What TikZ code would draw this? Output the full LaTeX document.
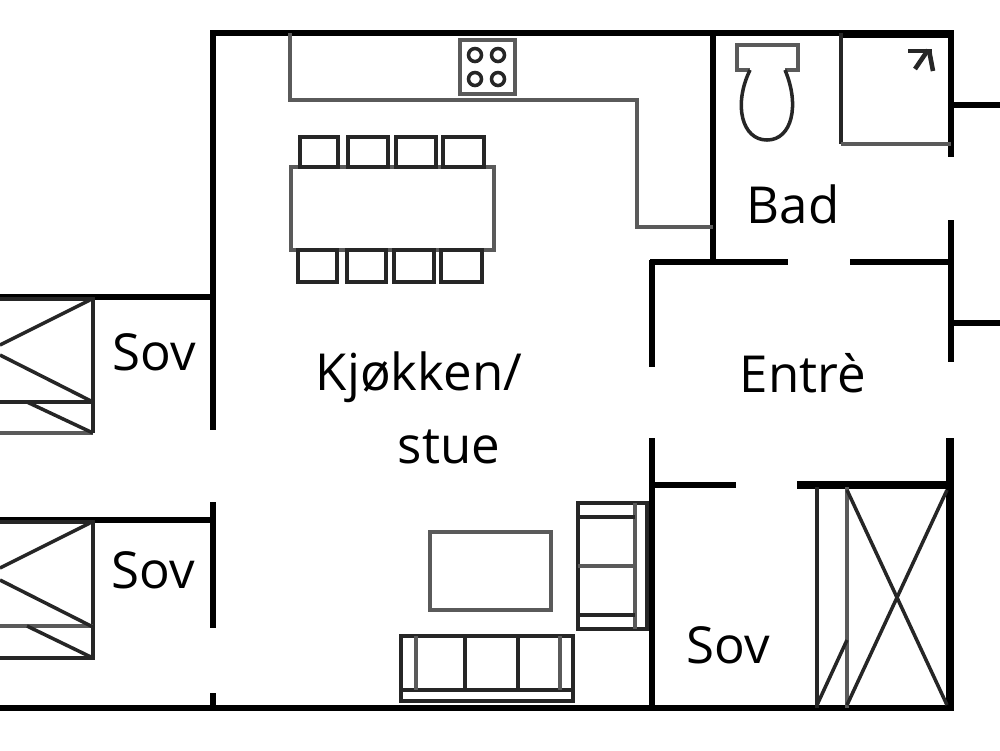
\documentclass[tikz,border=0pt]{standalone}
\usepackage{fontspec}
\setmainfont{Open Sans}
\definecolor{greyline}{HTML}{5A5A5A}
\tikzset{
  wall/.style={black, line width=1.6pt},
  thickwall/.style={black, line width=2.1pt},
  item/.style={black!85, line width=1pt},
  greyitem/.style={greyline, line width=1.3pt},
  roomlabel/.style={font=\fontsize{14.5}{16}\selectfont, text=black, inner sep=0pt}
}
\begin{document}
\begin{tikzpicture}[x=0.01cm,y=-0.01cm]
\useasboundingbox (0,0) rectangle (1000,750);

\draw[wall] (210,33) -- (954,33);
\draw[thickwall] (841,34) -- (954,34);
\draw[wall] (0,708) -- (954,708);
\draw[wall] (213,30) -- (213,430);
\draw[wall] (213,502) -- (213,628);
\draw[wall] (213,693) -- (213,708);
\draw[wall] (0,297) -- (213,297);
\draw[wall] (0,520) -- (213,520);

\draw[wall] (713,33) -- (713,262);
\draw[wall] (650,262) -- (788,262);
\draw[wall] (850,262) -- (951,262);
\draw[wall] (652,260) -- (652,367);
\draw[wall] (652,438) -- (652,708);
\draw[wall] (652,485) -- (736,485);
\draw[thickwall] (797,485) -- (951,485);

\draw[wall] (951,30) -- (951,157);
\draw[wall] (951,220) -- (951,362);
\draw[thickwall] (950,438) -- (950,710);
\draw[wall] (951,105) -- (1000,105);
\draw[wall] (951,323) -- (1000,323);

\draw[greyitem] (290,33) -- (290,100) -- (637,100) -- (637,227) -- (713,227);
\draw[greyitem, fill=white] (460,40) rectangle (515,94);
\draw[item] (475,55) circle (6.5);
\draw[item] (498,55) circle (6.5);
\draw[item] (475,79) circle (6.5);
\draw[item] (498,79) circle (6.5);

\draw[greyitem] (291,167) rectangle (494,250);
\draw[item] (300,167) rectangle (338,137);
\draw[item] (348,167) rectangle (388,137);
\draw[item] (396,167) rectangle (436,137);
\draw[item] (443,167) rectangle (484,137);
\draw[item] (298,250) rectangle (337,282);
\draw[item] (347,250) rectangle (386,282);
\draw[item] (394,250) rectangle (434,282);
\draw[item] (441,250) rectangle (482,282);

\draw[greyitem] (430,532) rectangle (551,610);

\draw[item] (578,503) rectangle (647,629);
\draw[greyitem] (635,503) -- (635,629);
\draw[item] (578,517) -- (635,517);
\draw[greyitem] (578,566) -- (635,566);
\draw[item] (578,615) -- (635,615);

\draw[item] (401,636) rectangle (573,701);
\draw[item] (401,690) -- (573,690);
\draw[greyitem] (416,636) -- (416,690);
\draw[item] (465,636) -- (465,690);
\draw[item] (518,636) -- (518,690);
\draw[greyitem] (560,636) -- (560,690);

\draw[item] (0,299) -- (93,299) -- (93,433);
\draw[greyitem] (93,433) -- (0,433);
\draw[item] (0,402) -- (93,402);
\draw[item] (90,300) -- (0,345);
\draw[item] (0,355) -- (93,402);
\draw[item] (27,402) -- (93,433);

\draw[item] (0,522) -- (93,522) -- (93,658) -- (0,658);
\draw[greyitem] (0,626) -- (93,626);
\draw[item] (90,523) -- (0,568);
\draw[item] (0,580) -- (93,627);
\draw[item] (27,626) -- (93,658);

\draw[item] (817,487) -- (817,708);
\draw[greyitem] (847,487) -- (847,708);
\draw[item] (847,490) -- (947,705);
\draw[item] (947,490) -- (847,705);
\draw[item] (817,705) -- (847,640);

\draw[item] (841,33) -- (841,144);
\draw[greyitem] (841,144) -- (951,144);
\draw[item] (908,51) -- (932,51);
\draw[item, line width=1.3pt] (928,50) -- (915,69);
\draw[item, line width=1.3pt] (929,50) -- (933,71);

\draw[greyitem] (750,70) -- (737,70) -- (737,45) -- (798,45) -- (798,70) -- (785,70);
\draw[item] (750,70) .. controls (733,105) and (742,140) .. (767,140) .. controls (792,140) and (800,105) .. (785,70);

\node[roomlabel] (sovupper) at (154,352) {Sov};
\node[roomlabel] (sovlower) at (153,570) {Sov};
\node[roomlabel] (sovright) at (728,645) {Sov};
\node[roomlabel] (kitchen) at (419,377) {Kjøkken/};
\node[roomlabel] (stue) at (449,447) {stue};
\node[roomlabel] (bad) at (793,204) {Bad};
\node[roomlabel] (entre) at (803,373) {Entrè};
\end{tikzpicture}
\end{document}
